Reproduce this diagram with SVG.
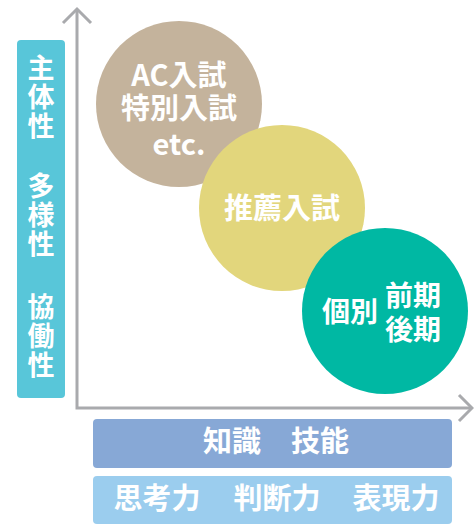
<svg xmlns="http://www.w3.org/2000/svg" width="474" height="528" viewBox="0 0 474 528">
<style>
.t{font-family:"Noto Sans CJK JP","Noto Sans",sans-serif;font-weight:bold;fill:#fff;text-anchor:middle}
.v{font-family:"Noto Sans CJK JP","Noto Sans",sans-serif;font-weight:bold;fill:#fff;font-size:27px;writing-mode:tb;letter-spacing:2px}
.ax{stroke:#A9AAAD;stroke-width:3;fill:none}
</style>
<rect width="474" height="528" fill="#fff"/>
<g id="left-label">
<rect x="17" y="40" width="48" height="358" rx="4" fill="#58C6D9"/>
<text class="v" x="41" y="54.5">主体性</text>
<text class="v" x="41" y="172.5">多様性</text>
<text class="v" x="41" y="293.5">協働性</text>
</g>
<g id="connectors">
<polyline class="ax" points="77,9 77,408 470,408"/>
<polyline class="ax" points="63,23 77,9 91,23"/>
<polyline class="ax" points="459,395 472,408 459,421"/>
</g>
<g id="ac">
<circle cx="179" cy="104" r="83" fill="#C4B39C"/>
<text class="t" font-size="29"><tspan x="179" y="86">AC入試</tspan><tspan x="179" y="119">特別入試</tspan><tspan x="179" y="155">etc.</tspan></text>
</g>
<g id="suisen">
<circle cx="282" cy="208" r="83" fill="#E2D67C"/>
<text class="t" font-size="29" x="282" y="219">推薦入試</text>
</g>
<g id="kobetsu">
<circle cx="385" cy="311" r="83" fill="#00B8A3"/>
<text class="t" font-size="28" x="350" y="322">個別</text>
<text class="t" font-size="28"><tspan x="413" y="306">前期</tspan><tspan x="413" y="340">後期</tspan></text>
</g>
<g id="chishiki">
<rect x="93" y="419" width="359" height="49" rx="4" fill="#87A8D6"/>
<text class="t" font-size="29"><tspan x="232" y="452">知識</tspan><tspan x="320" y="452">技能</tspan></text>
</g>
<g id="shikou">
<rect x="93" y="476" width="359" height="48" rx="4" fill="#9BCDEE"/>
<text class="t" font-size="29"><tspan x="157" y="509">思考力</tspan><tspan x="277" y="509">判断力</tspan><tspan x="396" y="509">表現力</tspan></text>
</g>
</svg>
